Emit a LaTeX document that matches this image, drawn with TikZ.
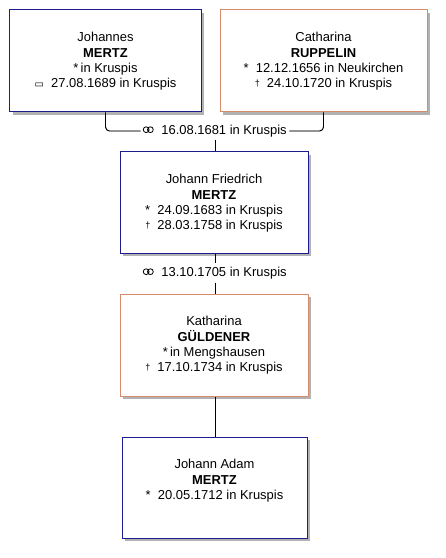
\documentclass[tikz,border=0pt]{standalone}
\usepackage{fontspec}
\setmainfont{Liberation Sans}
\newfontfamily\symfont{DejaVu Sans}
\usepackage{xcolor}
\definecolor{mnavy}{HTML}{1C1C8E}
\definecolor{fsalmon}{HTML}{D48C6A}
\tikzset{
  person/.style  = {draw, line width=1bp, rectangle, inner sep=0pt, fill=white},
  male/.style    = {person, draw=mnavy},
  female/.style  = {person, draw=fsalmon},
  boxshade/.style = {fill=black!30},
  ptext/.style   = {anchor=north, align=center, inner sep=0pt,
                    font=\fontsize{13}{15.5}\selectfont},
  wedding/.style = {inner sep=2.5pt, font=\fontsize{13}{14}\selectfont},
  rings/.style   = {line width=0.8bp},
  link/.style    = {line width=0.9bp, rounded corners=4bp},
  linkshade/.style = {link, draw=black!30},
}
\newcommand{\birth}{*}
\newcommand{\death}{\raisebox{1pt}{\fontsize{9}{9}\selectfont\dag}}
\newcommand{\burial}{{\symfont\fontsize{10}{10}\selectfont ▭}}
% box with its shadow: name, style, x, y, width, height
\newcommand{\personbox}[6]{%
  \path[boxshade] (#3-#5/2+3,#4-#6/2+3) rectangle (#3+#5/2+3,#4+#6/2+3);
  \node[#2, minimum width=#5bp, minimum height=#6bp] (#1) at (#3,#4) {};}

\begin{document}
\begin{tikzpicture}[x=1bp,y=-1bp]
\useasboundingbox (0,0) rectangle (446,558);
\path[draw=mnavy, line width=0pt] (0,0);
% ---- parents ----
\personbox{JM}{male}{105.5}{61}{191}{102}
\personbox{CR}{female}{323.5}{61}{207}{102}
\node[ptext] (JMt) at (105.5,32) {Johannes\\\textbf{MERTZ}\\\birth\,in Kruspis\\\burial\ \ 27.08.1689 in Kruspis};
\node[ptext] (CRt) at (323.5,32) {Catharina\\\textbf{RUPPELIN}\\\birth\ \ 12.12.1656 in Neukirchen\\\death\ \ 24.10.1720 in Kruspis};
\node[wedding] (M1) at (215,131) {\hspace*{18bp}16.08.1681 in Kruspis};
\draw[rings] ([shift={(5.5,-1.3)}]M1.west) circle (2.9) ([shift={(9.7,-1.3)}]M1.west) circle (2.9);
% ---- son ----
\personbox{JF}{male}{214}{202.5}{188}{101}
\node[ptext] (JFt) at (214,174) {Johann Friedrich\\\textbf{MERTZ}\\\birth\ \ 24.09.1683 in Kruspis\\\death\ \ 28.03.1758 in Kruspis};
\node[wedding, inner sep=3.5pt] (M2) at (215,273) {\hspace*{18bp}13.10.1705 in Kruspis};
\draw[rings] ([shift={(6.5,-1.3)}]M2.west) circle (2.9) ([shift={(10.7,-1.3)}]M2.west) circle (2.9);
% ---- wife of son ----
\personbox{KG}{female}{214}{345}{188}{102}
\node[ptext] (KGt) at (214,316) {Katharina\\\textbf{GÜLDENER}\\\birth\,in Mengshausen\\\death\ \ 17.10.1734 in Kruspis};
% ---- grandson ----
\personbox{JA}{male}{214.5}{487.5}{185}{101}
\node[ptext] (JAt) at (214.5,459) {Johann Adam\\\textbf{MERTZ}\\\birth\ \ 20.05.1712 in Kruspis};
% connectors: grey copy first, black on top
\begin{scope}[shift={(2,2)}]
\draw[linkshade] (JM.south) |- (M1.west);
\draw[linkshade] (CR.south) |- (M1.east);
\draw[linkshade] (M1.south) -- (M1.south |- JF.north);
\draw[linkshade] (JF.south -| M2) -- (M2.north);
\draw[linkshade] (M2.south) -- (M2.south |- KG.north);
\draw[linkshade] (KG.south -| M2) -- (M2 |- JA.north);
\end{scope}
\draw[link] (JM.south) |- (M1.west);
\draw[link] (CR.south) |- (M1.east);
\draw[link] (M1.south) -- (M1.south |- JF.north);
\draw[link] (JF.south -| M2) -- (M2.north);
\draw[link] (M2.south) -- (M2.south |- KG.north);
\draw[link] (KG.south -| M2) -- (M2 |- JA.north);
\end{tikzpicture}
\end{document}
